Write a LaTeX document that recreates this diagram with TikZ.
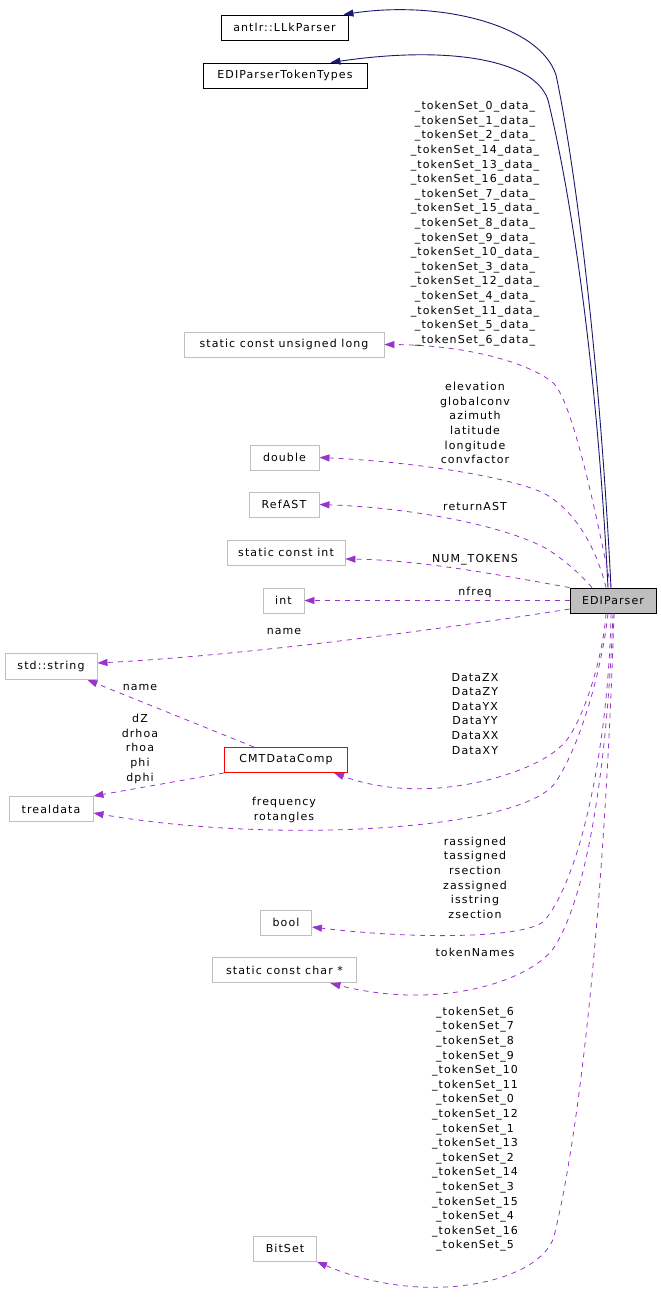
\documentclass[tikz,border=0pt]{standalone}
\usepackage{fontspec}
\setmainfont{DejaVu Sans}[LetterSpace=10]
\usetikzlibrary{arrows.meta}
\definecolor{edgepurple}{HTML}{9A32CD}
\definecolor{navyedge}{HTML}{191970}
\definecolor{boxgray}{HTML}{BFBFBF}
\newcommand{\lblfont}{\fontsize{11pt}{14.6pt}\selectfont}
\tikzset{
  typebox/.style={draw=boxgray, line width=0.9pt, inner sep=0pt, minimum height=25pt, font=\lblfont},
  classbox/.style={draw=black, line width=0.9pt, inner sep=0pt, minimum height=25pt, font=\lblfont},
  mainbox/.style={draw=black, fill=boxgray, line width=0.9pt, inner sep=0pt, minimum height=25pt, font=\lblfont},
  cmtbox/.style={draw=red, line width=0.9pt, inner sep=0pt, minimum height=25pt, font=\lblfont},
  member/.style={draw=edgepurple, line width=0.8pt, dash pattern=on 5pt off 5pt, -{Triangle[length=10pt,width=7pt]}},
  inherit/.style={draw=navyedge, line width=0.9pt, -{Triangle[length=10pt,width=7pt]}},
  lbl/.style={font=\lblfont, align=center, inner sep=0pt}
}
\begin{document}
\begin{tikzpicture}[x=1pt,y=-1pt]
\useasboundingbox (0,0) rectangle (661,1312);
% nodes
\node[classbox, minimum width=127pt] (llk) at (284.5,27.5) {antlr::LLkParser};
\node[classbox, minimum width=164pt] (tt) at (285,75.5) {EDIParserTokenTypes};
\node[typebox, minimum width=200pt] (scul) at (284,344.5) {static const unsigned long};
\node[typebox, minimum width=69pt] (dbl) at (284.5,457.5) {double};
\node[typebox, minimum width=70pt] (refast) at (284,504.5) {RefAST};
\node[typebox, minimum width=118pt] (sci) at (286,552.5) {static const int};
\node[typebox, minimum width=41pt] (int) at (283.5,600.5) {int};
\node[mainbox, minimum width=86pt] (edi) at (613,600.5) {EDIParser};
\node[typebox, minimum width=92pt, minimum height=26pt] (str) at (51,666.5) {std::string};
\node[cmtbox, minimum width=123pt] (cmt) at (286,760) {CMTDataComp};
\node[typebox, minimum width=84pt] (treal) at (51,809) {trealdata};
\node[typebox, minimum width=51pt] (bool) at (286,922.5) {bool};
\node[typebox, minimum width=144pt] (scc) at (284.5,970.3) {static const char *};
\node[typebox, minimum width=63pt] (bitset) at (285,1248.8) {BitSet};
% inheritance
\draw[inherit] ([xshift=-2pt]edi.north) .. controls (598,330) and (572,150) .. (556,75) .. controls (540,25) and (440,0) .. ([xshift=-5pt]llk.north east);
\draw[inherit] ([xshift=-5pt]edi.north) .. controls (595,330) and (565,170) .. (548,100) .. controls (535,60) and (450,45) .. ([xshift=-37pt]tt.north east);
% members
\draw[member] ([xshift=-2pt]edi.north) .. controls (598,523) and (572,396) .. (552,382) .. controls (530,364) and (470,345) .. (scul.east);
\draw[member] ([xshift=-7pt]edi.north) .. controls (598,555) and (580,515) .. (547,495) .. controls (520,479) and (420,462) .. (dbl.east);
\draw[member] ([xshift=-21pt]edi.north) .. controls (582,576) and (565,560) .. (547,549) .. controls (510,528) and (420,508) .. (refast.east);
\draw[member] (edi.north west) .. controls (500,575) and (420,560) .. ([yshift=-6.5pt]sci.east);
\draw[member] (edi.west) -- (int.east);
\draw[member] ([yshift=-8.5pt]edi.west) .. controls (450,628) and (250,655) .. ([yshift=3.5pt]str.east);
\draw[member] ([xshift=-32pt]cmt.north) -- ([xshift=-10pt]str.south east);
\draw[member] (cmt.south west) -- (treal.north east);
\draw[member] ([xshift=-7pt]edi.south) .. controls (603,660) and (580,732) .. (560,747) .. controls (535,772) and (430,808) .. ([xshift=-14pt]cmt.south east);
\draw[member] ([xshift=-5pt]edi.south) .. controls (602,670) and (580,745) .. (557,780) .. controls (530,830) and (280,845) .. ([yshift=-4pt]treal.east);
\draw[member] ([xshift=-2pt]edi.south) .. controls (609,730) and (585,870) .. (545,920) .. controls (530,938) and (420,940) .. ([yshift=-4.5pt]bool.east);
\draw[member] (edi.south) .. controls (608,750) and (590,890) .. (555,946) .. controls (535,978) and (445,1012) .. ([xshift=-26.5pt]scc.south east);
\draw[member] ([xshift=1pt]edi.south) .. controls (605,900) and (580,1130) .. (555,1232) .. controls (548,1280) and (430,1310) .. (bitset.south east);
% labels
\node[lbl] (l1) at (475,223.7) {\_tokenSet\_0\_data\_\\\_tokenSet\_1\_data\_\\\_tokenSet\_2\_data\_\\\_tokenSet\_14\_data\_\\\_tokenSet\_13\_data\_\\\_tokenSet\_16\_data\_\\\_tokenSet\_7\_data\_\\\_tokenSet\_15\_data\_\\\_tokenSet\_8\_data\_\\\_tokenSet\_9\_data\_\\\_tokenSet\_10\_data\_\\\_tokenSet\_3\_data\_\\\_tokenSet\_12\_data\_\\\_tokenSet\_4\_data\_\\\_tokenSet\_11\_data\_\\\_tokenSet\_5\_data\_\\\_tokenSet\_6\_data\_};
\node[lbl] (l2) at (475,423) {elevation\\globalconv\\azimuth\\latitude\\longitude\\convfactor};
\node[lbl] (l3) at (475,506.7) {returnAST};
\node[lbl] (l4) at (475,559.3) {NUM\_TOKENS};
\node[lbl] (l5) at (475,592.7) {nfreq};
\node[lbl] (l6) at (284,631.7) {name};
\node[lbl] (l7) at (140,687.7) {name};
\node[lbl] (l8) at (140,748.8) {dZ\\drhoa\\rhoa\\phi\\dphi};
\node[lbl] (l9) at (475,713.7) {DataZX\\DataZY\\DataYX\\DataYY\\DataXX\\DataXY};
\node[lbl] (l10) at (284,809.7) {frequency\\rotangles};
\node[lbl] (l11) at (475,877.7) {rassigned\\tassigned\\rsection\\zassigned\\isstring\\zsection};
\node[lbl] (l12) at (475,952.5) {tokenNames};
\node[lbl] (l13) at (475,1129.2) {\_tokenSet\_6\\\_tokenSet\_7\\\_tokenSet\_8\\\_tokenSet\_9\\\_tokenSet\_10\\\_tokenSet\_11\\\_tokenSet\_0\\\_tokenSet\_12\\\_tokenSet\_1\\\_tokenSet\_13\\\_tokenSet\_2\\\_tokenSet\_14\\\_tokenSet\_3\\\_tokenSet\_15\\\_tokenSet\_4\\\_tokenSet\_16\\\_tokenSet\_5};
\end{tikzpicture}
\end{document}
